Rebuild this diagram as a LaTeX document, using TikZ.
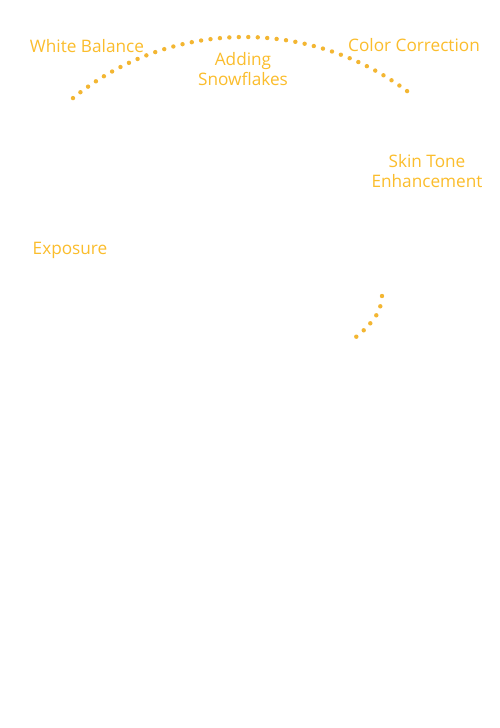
\documentclass[tikz,border=0pt]{standalone}
\usepackage{fontspec}
\setmainfont{Open Sans}
\definecolor{labelc}{RGB}{251,189,44}
\definecolor{dotc}{RGB}{243,182,50}
\begin{document}
\begin{tikzpicture}[x=1pt,y=-1pt,
  lbl/.style={text=labelc,font=\fontsize{17.2}{19.8}\selectfont,align=center,inner sep=0pt,anchor=base},
  bead/.style={fill=dotc,draw=none}]
\useasboundingbox[fill=white] (0,0) rectangle (500,728);
\node[lbl] (wb) at (87,52) {White Balance};
\node[lbl] (as) at (243,85.5) {Adding\\Snowflakes};
\node[lbl] (cc) at (414,51) {Color Correction};
\node[lbl] (st) at (427,187) {Skin Tone\\Enhancement};
\node[lbl] (ex) at (70,254) {Exposure};
% big dotted arc
\foreach \i in {0,...,38}{
  \pgfmathsetmacro{\a}{-129.2+2.0*\i}
  \fill[bead] ({244.5+271.4*cos(\a)},{308.4+271.4*sin(\a)}) circle (2.2);
}
% small dotted arc
\foreach \p in {(382,296),(380.3,306.3),(376.3,315.3),(370.3,323.3),(363.7,330.3),(356.3,336.7)}{
  \fill[bead] \p circle (2.2);
}
\end{tikzpicture}
\end{document}
